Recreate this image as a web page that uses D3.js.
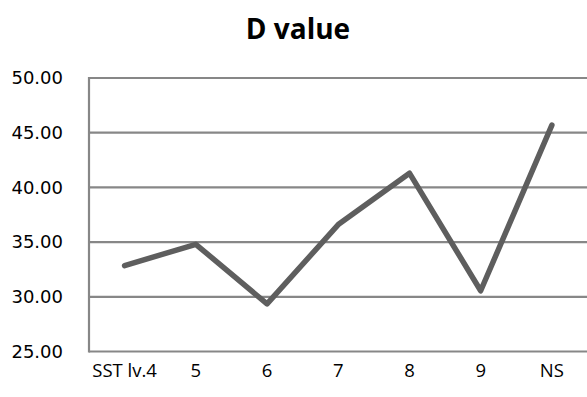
<!DOCTYPE html>
<html><head><meta charset="utf-8">
<script src="https://cdn.jsdelivr.net/npm/d3@7"></script>
<style>html,body{margin:0;padding:0;background:#fff;}svg{display:block;}</style>
</head><body>
<svg id="chart" width="587" height="397"></svg>
<script>
const categories = ["SST lv.4", "5", "6", "7", "8", "9", "NS"];
const dValues = [32.85, 34.8, 29.35, 36.6, 41.3, 30.55, 45.7];
const yTicks = [25, 30, 35, 40, 45, 50];
const chartTitle = "D value";

const svg = d3.select("#chart");
const margin = {left: 89, right: -0.5, top: 78, bottom: 45.5};
const W = 587, H = 397;
const x = d3.scaleBand().domain(categories).range([margin.left, W - margin.right]).padding(0);
const y = d3.scaleLinear().domain([25, 50]).range([H - margin.bottom, margin.top]);

svg.append("text").attr("x", 298).attr("y", 39).attr("text-anchor", "middle")
  .attr("font-family", "Open Sans").attr("font-weight", "bold").attr("font-size", 28)
  .attr("fill", "#000").text(chartTitle);

// gridlines
svg.append("g").selectAll("line").data(yTicks.filter(d => d > 25)).join("line")
  .attr("x1", margin.left).attr("x2", W)
  .attr("y1", d => y(d)).attr("y2", d => y(d))
  .attr("stroke", "#878787").attr("stroke-width", 2.2);

// axes frame
svg.append("line").attr("x1", margin.left).attr("x2", margin.left)
  .attr("y1", y(50) - 1).attr("y2", y(25) + 1)
  .attr("stroke", "#878787").attr("stroke-width", 2.2);
svg.append("line").attr("x1", margin.left).attr("x2", W)
  .attr("y1", y(25)).attr("y2", y(25))
  .attr("stroke", "#878787").attr("stroke-width", 2.2);

// y labels
const yAxis = d3.axisLeft(y).tickValues(yTicks).tickFormat(d3.format(".2f")).tickSize(0).tickPadding(0);
const gy = svg.append("g").attr("transform", "translate(63,0)").call(yAxis);
gy.select(".domain").remove();
gy.selectAll("text").attr("font-family", "DejaVu Sans").attr("font-size", 18).attr("fill", "#000");

// x labels
const xAxis = d3.axisBottom(x).tickSize(0).tickPadding(0);
const gx = svg.append("g").attr("transform", "translate(0,0)").call(xAxis);
gx.select(".domain").remove();
gx.selectAll("text").attr("y", 377).attr("dy", null)
  .attr("font-family", "Open Sans").attr("font-size", 18.5).attr("fill", "#000");

// line
const line = d3.line().x((d, i) => x(categories[i]) + x.bandwidth() / 2).y(d => y(d));
svg.append("path").datum(dValues).attr("d", line)
  .attr("fill", "none").attr("stroke", "#5e5e5e").attr("stroke-width", 5.5)
  .attr("stroke-linejoin", "round").attr("stroke-linecap", "round");
</script>
</body></html>
